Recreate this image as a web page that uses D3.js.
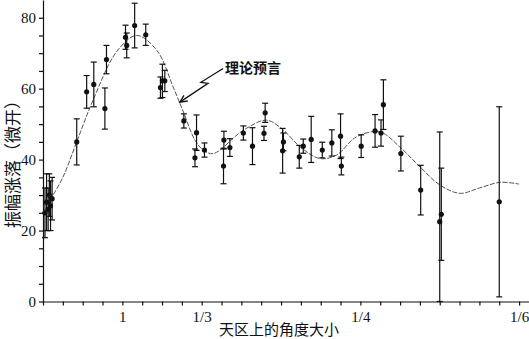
<!DOCTYPE html>
<html>
<head>
<meta charset="utf-8">
<script src="https://cdn.jsdelivr.net/npm/d3@7"></script>
<style>
  body { margin: 0; background: #fff; }
  svg { display: block; }
</style>
</head>
<body>
<svg id="chart"></svg>
<script>
// measured points: multipole position, amplitude (uK), error half-width
var ell = [5, 9, 13, 16, 19, 23,
  85, 110, 128, 156, 160, 208, 211, 231, 259, 296, 301, 307,
  355, 383, 387, 407, 455, 456, 471, 505, 528, 557, 560, 604, 606,
  646, 656, 676, 704, 728, 750, 752, 802, 837, 852, 858, 902, 952,
  1000, 1004, 1150];
var amp = [25, 28, 26, 30, 27, 29,
  45.0, 59.1, 61.2, 54.4, 68.2, 74.5, 72.2, 77.8, 75.2, 60.3, 62.2, 62.2,
  50.9, 40.5, 47.6, 42.7, 38.2, 45.5, 43.4, 47.5, 43.8, 47.4, 53.2, 42.5, 45.0,
  40.8, 43.8, 45.7, 42.7, 44.7, 46.6, 38.2, 43.8, 48.1, 47.5, 55.5, 41.7, 31.4,
  22.5, 24.6, 28.1];
var err = [7, 8, 6, 6, 7, 6,
  6.5, 4.6, 6.3, 5.8, 4.0, 3.4, 3.5, 6.3, 3.0, 3.0, 4.7, 3.0,
  2.0, 2.5, 5.0, 2.0, 5.0, 2.5, 2.5, 2.0, 5.2, 2.0, 2.7, 6.3, 2.5,
  3.2, 2.0, 6.5, 2.2, 3.7, 6.3, 2.5, 3.2, 4.6, 3.7, 7.0, 4.9, 7.0,
  25.3, 13.0, 26.8];

// theory curve
var curveEll = [18, 50, 85, 127, 186, 236, 287, 328, 354, 383, 404, 429,
  505, 564, 606, 648, 698, 740, 790, 849, 900, 950, 1001, 1051, 1100, 1152, 1200];
var curveAmp = [28.6, 35, 45, 57, 70.5, 75, 70.8, 60.5, 53.4, 45.5, 42.7, 41.7,
  48.3, 51.1, 48.3, 43.6, 40.3, 41.3, 46.4, 47.8, 43.5, 38, 32.8, 30.5, 32, 33.6, 33.1];

var xTickVals = [200, 400, 800, 1200];
var xTickLabels = ["1", "1/3", "1/4", "1/6"];
var yTickVals = [0, 20, 40, 60, 80];

var xLabel = "天区上的角度大小";
var yLabel = "振幅涨落（微开）";
var noteText = "理论预言";
var noteEll = [454, 398, 416, 345];
var noteAmp = [65.7, 61.8, 61.5, 56.2];

var width = 529, height = 339;

var svg = d3.select("#chart")
    .attr("width", width)
    .attr("height", height);

var x = d3.scaleLinear().domain([0, 1225]).range([43, 529]);
var y = d3.scaleLinear().domain([0, 85]).range([301.5, 0]);

var serif = "'Liberation Serif', 'DejaVu Serif', serif";
var cjk = "'Noto Sans CJK SC', sans-serif";

// axes
var xAxis = d3.axisBottom(x)
    .tickValues(d3.range(0, 1201, 50))
    .tickSize(4)
    .tickSizeOuter(0)
    .tickPadding(6)
    .tickFormat(function(d) {
      var i = xTickVals.indexOf(d);
      return i < 0 ? "" : xTickLabels[i];
    });

var yAxis = d3.axisLeft(y)
    .tickValues(d3.range(0, 85, 5))
    .tickSize(4)
    .tickSizeOuter(0)
    .tickPadding(3)
    .tickFormat(function(d) { return yTickVals.indexOf(d) < 0 ? "" : d; });

var gx = svg.append("g")
    .attr("transform", "translate(0," + y(0) + ")")
    .call(xAxis);
var gy = svg.append("g")
    .attr("transform", "translate(" + x(0) + ",0)")
    .call(yAxis);

[gx, gy].forEach(function(g) {
  g.selectAll("path, line").attr("stroke", "#111").attr("stroke-width", 1.2);
  g.selectAll("text").attr("fill", "#111")
    .style("font-family", serif).style("font-size", "15px");
});

// theory curve
var line = d3.line()
    .x(function(d, i) { return x(curveEll[i]); })
    .y(function(d, i) { return y(curveAmp[i]); })
    .curve(d3.curveCatmullRom);

svg.append("path")
    .attr("d", line(curveEll))
    .attr("fill", "none")
    .attr("stroke", "#555")
    .attr("stroke-width", 1)
    .attr("stroke-dasharray", "5,1.5");

// error bars + points
var pts = ell.map(function(l, i) {
  return { l: l, a: amp[i], lo: Math.max(0, amp[i] - err[i]), hi: amp[i] + err[i] };
});

var g = svg.selectAll(".pt")
    .data(pts)
  .enter().append("g")
    .attr("class", "pt");

g.append("line")
    .attr("x1", function(d) { return x(d.l); })
    .attr("x2", function(d) { return x(d.l); })
    .attr("y1", function(d) { return y(d.lo); })
    .attr("y2", function(d) { return y(d.hi); })
    .attr("stroke", "#111")
    .attr("stroke-width", 1.2);

["lo", "hi"].forEach(function(k) {
  g.append("line")
      .attr("x1", function(d) { return x(d.l) - 3; })
      .attr("x2", function(d) { return x(d.l) + 3; })
      .attr("y1", function(d) { return y(d[k]); })
      .attr("y2", function(d) { return y(d[k]); })
      .attr("stroke", "#111")
      .attr("stroke-width", 1.2);
});

g.append("circle")
    .attr("cx", function(d) { return x(d.l); })
    .attr("cy", function(d) { return y(d.a); })
    .attr("r", 2.6)
    .attr("fill", "#111");

// annotation: zigzag arrow + text
var notePts = noteEll.map(function(l, i) { return [x(l), y(noteAmp[i])]; });
svg.append("path")
    .attr("d", d3.line()(notePts))
    .attr("fill", "none")
    .attr("stroke", "#111")
    .attr("stroke-width", 1.3);

var tip = notePts[notePts.length - 1], prev = notePts[notePts.length - 2];
var ang = Math.atan2(tip[1] - prev[1], tip[0] - prev[0]);
var head = [ang + 2.7, ang - 2.7].map(function(a) {
  return [tip[0] + 8 * Math.cos(a), tip[1] + 8 * Math.sin(a)];
});
svg.append("path")
    .attr("d", d3.line()([head[0], tip, head[1]]))
    .attr("fill", "none")
    .attr("stroke", "#111")
    .attr("stroke-width", 1.3);

svg.append("text")
    .attr("x", x(noteEll[0]) + 2)
    .attr("y", y(noteAmp[0]) + 5)
    .style("font-family", cjk)
    .style("font-size", "14px")
    .style("font-weight", "bold")
    .attr("fill", "#111")
    .text(noteText);

// axis titles
svg.append("text")
    .attr("x", 279)
    .attr("y", 335)
    .attr("text-anchor", "middle")
    .style("font-family", cjk)
    .style("font-size", "15px")
    .attr("fill", "#111")
    .text(xLabel);

svg.append("text")
    .attr("transform", "translate(19,160) rotate(-90)")
    .attr("text-anchor", "middle")
    .style("font-family", cjk)
    .style("font-size", "17px")
    .attr("fill", "#111")
    .text(yLabel);
</script>
</body>
</html>
